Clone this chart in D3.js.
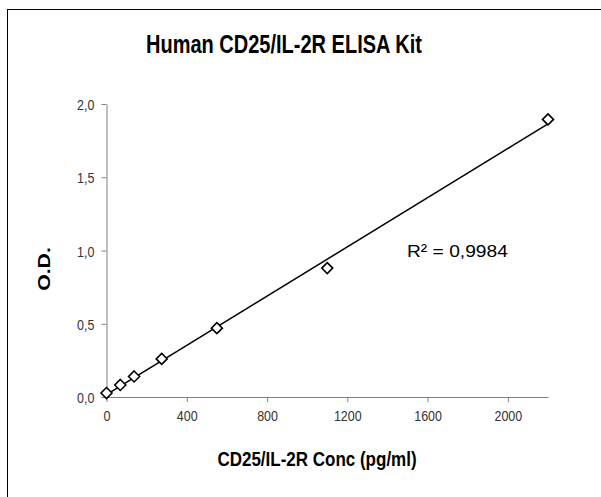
<!DOCTYPE html>
<html><head><meta charset="utf-8">
<script src="https://cdn.jsdelivr.net/npm/d3@7"></script>
<style>body{margin:0;background:#fff}svg{display:block}</style>
</head><body>
<script>
const concentrations = [0, 68.75, 137.5, 275, 550, 1100, 2200];
const odValues = [0.027, 0.082, 0.14, 0.26, 0.47, 0.88, 1.895];
const xTicks = [0, 400, 800, 1200, 1600, 2000];
const yTicks = [0, 0.5, 1.0, 1.5, 2.0];
const titleText = "Human CD25/IL-2R ELISA Kit";
const xLabel = "CD25/IL-2R Conc (pg/ml)";
const yLabel = "O.D.";
const r2Text = "R² = 0,9984";

const W = 601, H = 497;
const svg = d3.select("body").append("svg").attr("width", W).attr("height", H);
const font = "Arial, 'Liberation Sans', sans-serif";

svg.append("rect").attr("x", 7.5).attr("y", 9.5).attr("width", 700).attr("height", 600)
  .attr("fill", "none").attr("stroke", "#000").attr("stroke-width", 1);

const x = d3.scaleLinear().domain([0, 2200]).range([106.5, 548]);
const y = d3.scaleLinear().domain([0, 2.0]).range([397, 104]);

const fmtY = d => d3.format(".1f")(d).replace(".", ",");

const gx = svg.append("g").attr("transform", `translate(0,${y(0)})`)
  .call(d3.axisBottom(x).tickValues(xTicks).tickFormat(d3.format("d")).tickSize(5).tickSizeOuter(0));
const gy = svg.append("g").attr("transform", `translate(${x(0)},0)`)
  .call(d3.axisLeft(y).tickValues(yTicks).tickFormat(fmtY).tickSize(5).tickSizeOuter(0).tickPadding(7));
[gx, gy].forEach(g => {
  g.select(".domain").attr("stroke", "#808080");
  g.selectAll(".tick line").attr("stroke", "#808080");
  g.selectAll(".tick text").attr("fill", "#333").attr("font-family", font).attr("font-size", 12.5);
});
gx.selectAll(".tick text").attr("dy", null).attr("y", 24)
  .attr("transform", "translate(0,24) scale(1,1.12) translate(0,-24)");
gy.selectAll(".tick text").attr("dy", null).attr("y", 5.5)
  .attr("transform", "translate(0,5.5) scale(1,1.12) translate(0,-5.5)");

// linear trendline (least squares)
const n = concentrations.length;
const mx = d3.mean(concentrations), my = d3.mean(odValues);
let sxy = 0, sxx = 0;
for (let i = 0; i < n; i++) { sxy += (concentrations[i]-mx)*(odValues[i]-my); sxx += (concentrations[i]-mx)**2; }
const slope = sxy / sxx, intercept = my - slope * mx;
const xr = d3.extent(concentrations);
svg.append("path")
  .attr("d", d3.line().x(d => x(d)).y(d => y(intercept + slope * d))(xr))
  .attr("stroke", "#000").attr("stroke-width", 1.5).attr("fill", "none");

svg.append("g").selectAll("path").data(concentrations.map((c, i) => [c, odValues[i]])).join("path")
  .attr("transform", d => `translate(${x(d[0])},${y(d[1])})`)
  .attr("d", "M0,-5.5L5.5,0L0,5.5L-5.5,0Z")
  .attr("fill", "#fff").attr("stroke", "#000").attr("stroke-width", 1.6);

svg.append("text").attr("transform", "translate(284,53) scale(1,1.27)").attr("text-anchor", "middle")
  .attr("font-family", font).attr("font-weight", "bold").attr("font-size", 20).attr("fill", "#000").text(titleText);
svg.append("text").attr("transform", "translate(317,466) scale(1,1.22)").attr("text-anchor", "middle")
  .attr("font-family", font).attr("font-weight", "bold").attr("font-size", 17).attr("fill", "#000").text(xLabel);
svg.append("text").attr("transform", "translate(50,269) rotate(-90) scale(1.25,1)").attr("text-anchor", "middle")
  .attr("font-family", font).attr("font-weight", "bold").attr("font-size", 17).attr("fill", "#000").text(yLabel);
svg.append("text").attr("transform", "translate(407,257) scale(1.13,1)")
  .attr("font-family", font).attr("font-size", 17).attr("fill", "#000").text(r2Text);
</script>
</body></html>
